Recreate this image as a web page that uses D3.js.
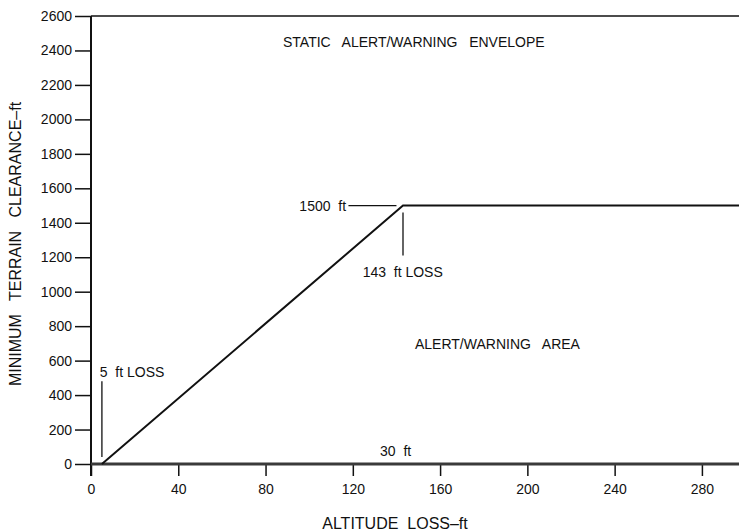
<!DOCTYPE html>
<html>
<head>
<meta charset="utf-8">
<script src="https://cdn.jsdelivr.net/npm/d3@7"></script>
<style>
  body { margin: 0; background: #fff; }
  text { font-family: "Liberation Sans", Arial, sans-serif; font-size: 14px; fill: #111; white-space: pre; }
</style>
</head>
<body>
<svg id="chart" width="739" height="532"></svg>
<script>
// Envelope corner points (altitude loss in ft, clearance in ft)
var lossValues = [5, 143, 297];
var clearanceValues = [0, 1500, 1500];

// Tick labels
var xTicks = [0, 40, 80, 120, 160, 200, 240, 280];
var yTicks = [0, 200, 400, 600, 800, 1000, 1200, 1400, 1600, 1800, 2000, 2200, 2400, 2600];

// Set up the SVG container and scales
var svg = d3.select("#chart");
var plotLeft = 91, plotRight = 739, plotTop = 16, plotBottom = 464;

var x = d3.scaleLinear().domain([0, 297]).range([plotLeft, plotRight]);
var y = d3.scaleLinear().domain([0, 2600]).range([plotBottom, plotTop]);

// Y axis with long ticks on the left
var yAxis = svg.append("g")
  .attr("transform", "translate(" + plotLeft + ",0)")
  .call(d3.axisLeft(y).tickValues(yTicks).tickSize(16).tickPadding(3).tickFormat(d3.format("d")));
yAxis.select(".domain").remove();
yAxis.selectAll("line").attr("stroke", "#111").attr("stroke-width", 1.5);
yAxis.selectAll("text").style("font-size", "14px").attr("fill", "#111");

// X axis ticks below
var xAxis = svg.append("g")
  .attr("transform", "translate(0," + plotBottom + ")")
  .call(d3.axisBottom(x).tickValues(xTicks).tickSize(12).tickPadding(8));
xAxis.select(".domain").remove();
xAxis.selectAll("line").attr("stroke", "#111").attr("stroke-width", 1.5);
xAxis.selectAll("text").style("font-size", "14px").attr("fill", "#111");

// Frame lines: vertical axis, top border, thick baseline
svg.append("line")
  .attr("x1", x(0)).attr("x2", x(0))
  .attr("y1", y(2600)).attr("y2", plotBottom + 12)
  .attr("stroke", "#111").attr("stroke-width", 2);
svg.append("line")
  .attr("x1", x(0)).attr("x2", plotRight)
  .attr("y1", y(2600)).attr("y2", y(2600))
  .attr("stroke", "#111").attr("stroke-width", 1.5);
svg.append("line")
  .attr("x1", x(0)).attr("x2", plotRight)
  .attr("y1", y(0)).attr("y2", y(0))
  .attr("stroke", "#3a3a3a").attr("stroke-width", 3);

// Envelope line
var points = lossValues.map(function(d, i) { return [d, clearanceValues[i]]; });
svg.append("path")
  .datum(points)
  .attr("d", d3.line().x(function(d) { return x(d[0]); }).y(function(d) { return y(d[1]); }))
  .attr("fill", "none")
  .attr("stroke", "#111")
  .attr("stroke-width", 2);

// Annotation leader lines
svg.append("line")
  .attr("x1", x(5)).attr("x2", x(5))
  .attr("y1", y(480)).attr("y2", y(40))
  .attr("stroke", "#111").attr("stroke-width", 1.3);
svg.append("line")
  .attr("x1", x(143)).attr("x2", x(143))
  .attr("y1", y(1460)).attr("y2", y(1210))
  .attr("stroke", "#111").attr("stroke-width", 1.3);
svg.append("line")
  .attr("x1", x(118)).attr("x2", x(140))
  .attr("y1", y(1500)).attr("y2", y(1500))
  .attr("stroke", "#111").attr("stroke-width", 1.3);

// Labels
function label(txt, px, py, anchor) {
  svg.append("text")
    .attr("x", px).attr("y", py)
    .attr("text-anchor", anchor || "start")
    .text(txt);
}
label("STATIC   ALERT/WARNING   ENVELOPE", x(88), y(2600) + 31);
label("1500  ft", x(95.5), y(1500) + 5);
label("143  ft LOSS", x(124.5), y(1500) + 71);
label("5  ft LOSS", x(4), y(0) - 87);
label("ALERT/WARNING   AREA", x(148.5), y(0) - 115);
label("30  ft", x(132.5), y(0) - 8);

// Axis titles
svg.append("text")
  .attr("x", 395).attr("y", 529)
  .attr("text-anchor", "middle")
  .style("font-size", "16px")
  .text("ALTITUDE  LOSS\u2013ft");
svg.append("text")
  .attr("transform", "translate(21,244) rotate(-90)")
  .attr("text-anchor", "middle")
  .style("font-size", "16px")
  .text("MINIMUM   TERRAIN   CLEARANCE\u2013ft");
</script>
</body>
</html>
